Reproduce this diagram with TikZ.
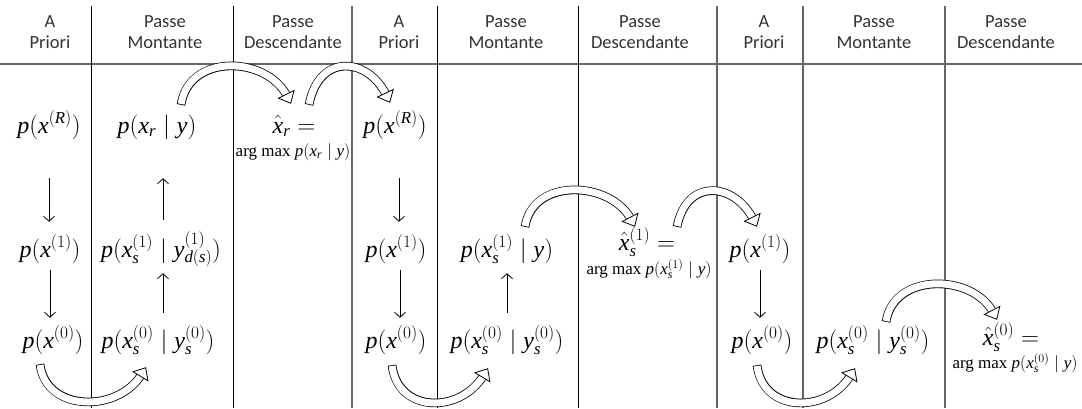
\documentclass[tikz,border=0pt]{standalone}
\usepackage{fontspec}
\setmainfont{Liberation Serif}
\newfontfamily\hdrfont{Carlito}
\DeclareSymbolFont{letters}{TU}{\rmdefault}{m}{it}
\usetikzlibrary{arrows.meta}

\tikzset{
  hdr/.style={font=\hdrfont\fontsize{18.5}{21}\selectfont, align=center, text=black!80},
  frm/.style={font=\fontsize{24}{28}\selectfont, inner sep=0pt, text height=16pt, text depth=6pt},
  hat/.style={frm, text depth=0pt},
  amx/.style={font=\fontsize{17}{19}\selectfont, inner sep=0pt},
  sep/.style={line width=0.7pt},
  grp/.style={line width=1.2pt, draw=black!60},
  thinarr/.style={line width=0.8pt, -{Straight Barb[length=5pt,width=11pt]}},
  hollow/.style={draw=white, line width=0.8pt, shorten <=1pt,
    -{Triangle[length=11pt, width=19pt, color=black, fill=white]},
    preaction={draw=black, line width=8.6pt, arrows=-, shorten <=0pt, shorten >=8pt},
    preaction={draw=white, line width=7pt, arrows=-, shorten <=0.8pt, shorten >=8pt}},
}

\begin{document}
\begin{tikzpicture}[x=1pt,y=1pt]
  \useasboundingbox (0,0) rectangle (1082,-408);

  % grid
  \draw[grp] (0,-64) -- (1082,-64);
  \foreach \xx in {91,233,437,578} \draw[sep] (\xx,-6) -- (\xx,-408);
  \foreach \xx in {352,717,803,945} \draw[grp] (\xx,-6) -- (\xx,-408);

  % headers
  \node[hdr] (hd1) at (50,-32) {A\\Priori};
  \node[hdr] (hd2) at (165,-32) {Passe\\Montante};
  \node[hdr] (hd3) at (293,-32) {Passe\\Descendante};
  \node[hdr] (hd4) at (399,-32) {A\\Priori};
  \node[hdr] (hd5) at (506,-32) {Passe\\Montante};
  \node[hdr] (hd6) at (640,-32) {Passe\\Descendante};
  \node[hdr] (hd7) at (764,-32) {A\\Priori};
  \node[hdr] (hd8) at (874,-32) {Passe\\Montante};
  \node[hdr] (hd9) at (1006,-32) {Passe\\Descendante};

  % first pass
  \node[frm] (pR1) at (49,-128) {$p(x^{(R)})$};
  \node[frm] (p1a) at (50,-252) {$p(x^{(1)})$};
  \node[frm] (p0a) at (53,-343) {$p(x^{(0)})$};
  \node[frm] (mr) at (157,-128) {$p(x_r \mid y)$};
  \node[frm] (m1a) at (161,-252) {$p(x_s^{(1)} \mid y_{d(s)}^{(1)})$};
  \node[frm] (m0a) at (158,-343) {$p(x_s^{(0)} \mid y_s^{(0)})$};
  \node[hat] (hr) at (294,-125) {$\hat{x}_r =$};
  \node[amx] (ar) at (293,-152) {arg max $p(x_r \mid y)$};

  % second pass
  \node[frm] (pR2) at (395,-128) {$p(x^{(R)})$};
  \node[frm] (p1b) at (396,-252) {$p(x^{(1)})$};
  \node[frm] (p0b) at (396,-343) {$p(x^{(0)})$};
  \node[frm] (m1b) at (507,-252) {$p(x_s^{(1)} \mid y)$};
  \node[frm] (m0b) at (507,-343) {$p(x_s^{(0)} \mid y_s^{(0)})$};
  \node[hat] (h1) at (647,-242) {$\hat{x}_s^{(1)} =$};
  \node[amx] (a1) at (649,-269) {arg max $p(x_s^{(1)} \mid y)$};

  % third pass
  \node[frm] (p1c) at (760,-252) {$p(x^{(1)})$};
  \node[frm] (p0c) at (762,-343) {$p(x^{(0)})$};
  \node[frm] (m0c) at (873,-343) {$p(x_s^{(0)} \mid y_s^{(0)})$};
  \node[hat] (h0) at (1011,-337) {$\hat{x}_s^{(0)} =$};
  \node[amx] (a0) at (1015,-363) {arg max $p(x_s^{(0)} \mid y)$};

  % thin arrows
  \draw[thinarr, shorten <=39pt, shorten >=19pt] (pR1.south) -- (pR1.south |- p1a.north);
  \draw[thinarr, shorten <=7pt, shorten >=14pt] (p1a.south) -- (p1a.south |- p0a.north);
  \draw[thinarr, shorten <=21pt, shorten >=39pt] ([xshift=2pt]m1a.north) -- ([xshift=2pt]m1a.north |- mr.south);
  \draw[thinarr, shorten <=19pt, shorten >=10pt] ([xshift=5pt]m0a.north) -- ([xshift=5pt]m0a.north |- m1a.south);
  \draw[thinarr, shorten <=39pt, shorten >=19pt] ([xshift=4pt]pR2.south) -- ([xshift=4pt]pR2.south |- p1b.north);
  \draw[thinarr, shorten <=7pt, shorten >=14pt] ([xshift=4pt]p1b.south) -- ([xshift=4pt]p1b.south |- p0b.north);
  \draw[thinarr, shorten <=19pt, shorten >=10pt] (m0b.north) -- (m0b.north |- m1b.south);
  \draw[thinarr, shorten <=7pt, shorten >=14pt] (p1c.south) -- (p1c.south |- p0c.north);

  % hollow arrows
  \draw[hollow] ([shift={(-13pt,-10pt)}]p0a.south) .. controls +(6,-48) and +(-28,-46) .. ([shift={(-12pt,-13pt)}]m0a.south);
  \draw[hollow] ([shift={(24pt,12pt)}]mr.north) .. controls +(8,52) and +(-24,48) .. ([shift={(-3pt,13pt)}]hr.north);
  \draw[hollow] ([shift={(15pt,12pt)}]hr.north) .. controls +(10,52) and +(-22,46) .. ([shift={(-5pt,14pt)}]pR2.north);
  \draw[hollow] ([shift={(-4pt,-11pt)}]p0b.south) .. controls +(6,-48) and +(-28,-46) .. ([shift={(-19pt,-14pt)}]m0b.south);
  \draw[hollow] ([shift={(18pt,14pt)}]m1b.north) .. controls +(8,50) and +(-24,46) .. ([shift={(-12pt,7pt)}]h1.north);
  \draw[hollow] ([shift={(30pt,7pt)}]h1.north) .. controls +(10,50) and +(-22,44) .. ([shift={(-3pt,14pt)}]p1c.north);
  \draw[hollow] ([shift={(-5pt,-11pt)}]p0c.south) .. controls +(6,-48) and +(-28,-46) .. ([shift={(-18pt,-14pt)}]m0c.south);
  \draw[hollow] ([shift={(13pt,10pt)}]m0c.north) .. controls +(8,50) and +(-24,46) .. ([shift={(-14pt,9pt)}]h0.north);
\end{tikzpicture}
\end{document}
